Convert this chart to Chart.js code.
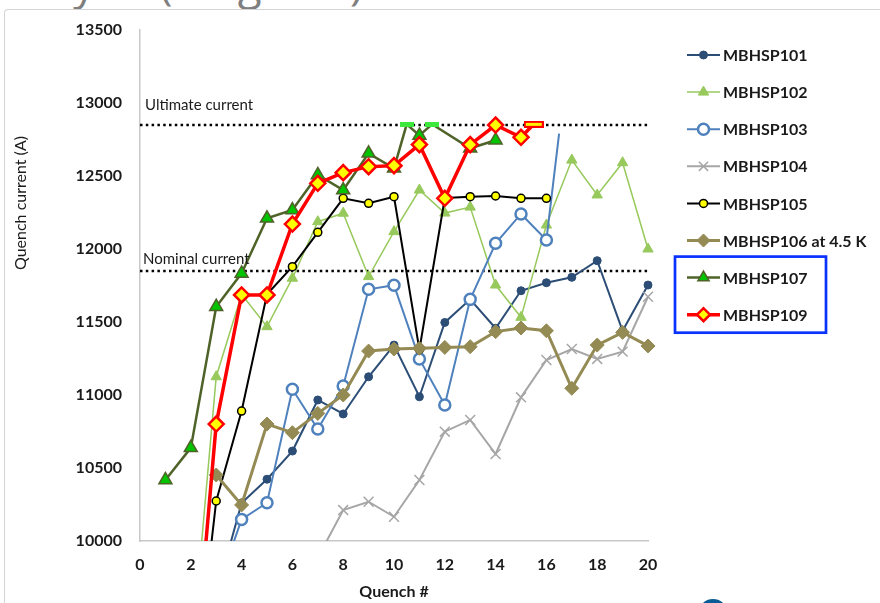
<!DOCTYPE html>
<html>
<head>
<meta charset="utf-8">
<title>Quench training</title>
<script src="https://cdn.jsdelivr.net/npm/chart.js"></script>
<style>
  html, body { margin: 0; padding: 0; background: #fff; }
  #page { position: relative; width: 880px; height: 603px; overflow: hidden; background: #fff; }
  #slideTitle { position: absolute; left: -224px; top: -40px; font: 44px/44px 'Open Sans', sans-serif; color: #7f7f7f; white-space: nowrap; }
  #frame { position: absolute; left: 4px; top: 9px; width: 900px; height: 700px;
           border-left: 1.5px solid #d4d4d4; border-top: 1.5px solid #d4d4d4; border-top-left-radius: 4px; }
  #quenchChart { position: absolute; left: 0; top: 0; }
  #logo { position: absolute; left: 698px; top: 599px; width: 30px; height: 30px; border-radius: 50%; background: #0b5c96; }
</style>
</head>
<body>
<div id="page">
  <div id="slideTitle">Training history of (magnets)</div>
  <div id="frame"></div>
  <canvas id="quenchChart" width="880" height="603"></canvas>
  <div id="logo"></div>
</div>
<script>
// ==================== DATOS ====================
const QUENCH_MIN = 0;
const QUENCH_MAX = 20;
const QUENCH_STEP = 2;
const CURRENT_MIN = 10000;
const CURRENT_MAX = 13500;
const CURRENT_STEP = 500;

const NOMINAL_CURRENT  = 11850;
const ULTIMATE_CURRENT = 12850;

const mbhsp101Quench  = [3, 4, 5, 6, 7, 8, 9, 10, 11, 12, 13, 14, 15, 16, 17, 18, 19, 20];
const mbhsp101Current = [9630, 10260, 10423, 10616, 10966, 10870, 11125, 11342, 10988, 11497,
                         11655, 11457, 11714, 11769, 11806, 11920, 11440, 11753];

const mbhsp102Quench  = [2, 3, 4, 5, 6, 7, 8, 9, 10, 11, 12, 13, 14, 15, 16, 17, 18, 19, 20];
const mbhsp102Current = [9150, 11125, 11690, 11468, 11800, 12187, 12245, 11811, 12119, 12404,
                         12246, 12287, 11753, 11532, 12164, 12609, 12370, 12591, 12000];

const mbhsp103Quench  = [3, 4, 5, 6, 7, 8, 9, 10, 11, 12, 13, 14, 15, 16, 16.5];
const mbhsp103Current = [9650, 10148, 10262, 11039, 10767, 11062, 11724, 11752, 11247, 10932,
                         11655, 12039, 12240, 12062, 12790];

const mbhsp104Quench  = [7, 8, 9, 10, 11, 12, 13, 14, 15, 16, 17, 18, 19, 20];
const mbhsp104Current = [9886, 10212, 10269, 10166, 10418, 10749, 10829, 10596, 10984, 11240,
                         11315, 11247, 11297, 11673];

const mbhsp105Quench  = [2, 3, 4, 5, 6, 7, 8, 9, 10, 11, 12, 13, 14, 15, 16];
const mbhsp105Current = [8750, 10274, 10890, 11690, 11879, 12114, 12347, 12313, 12358, 11310,
                         12349, 12358, 12363, 12347, 12347];

const mbhsp106Quench  = [3, 4, 5, 6, 7, 8, 9, 10, 11, 12, 13, 14, 15, 16, 17, 18, 19, 20];
const mbhsp106Current = [10452, 10247, 10801, 10742, 10874, 11000, 11301, 11315, 11320, 11326,
                         11331, 11434, 11459, 11440, 11046, 11342, 11429, 11336];

const mbhsp107Quench  = [1, 2, 3, 4, 5, 6, 7, 8, 9, 10, 10.5, 11, 11.5, 13, 14];
const mbhsp107Current = [10418, 10638, 11605, 11833, 12210, 12267, 12507, 12404, 12655, 12553,
                         12854, 12778, 12854, 12690, 12745];
const mbhsp107SinQuench = [10.5, 11.5];   // rampas sin quench (marca de raya)

const mbhsp109Quench  = [2, 3, 4, 5, 6, 7, 8, 9, 10, 11, 12, 13, 14, 15, 15.5];
const mbhsp109Current = [8800, 10801, 11685, 11685, 12171, 12450, 12523, 12564, 12571, 12715,
                         12347, 12715, 12849, 12765, 12854];
const mbhsp109SinQuench = [15.5];

// ==================== MARCAS ESPECIALES ====================

function makeDash(w, h, fill, stroke) {
  const c = document.createElement('canvas');
  c.width = w;
  c.height = h;
  const g = c.getContext('2d');
  g.fillStyle = fill;
  g.fillRect(0, 0, w, h);
  if (stroke) {
    g.strokeStyle = stroke;
    g.lineWidth = 2;
    g.strokeRect(1, 1, w - 2, h - 2);
  }
  return c;
}

const greenDash = makeDash(14, 5, '#3BE83B');
const redDash   = makeDash(20, 7, '#FFF200', '#FF0000');

const toPoints = (xs, ys) => xs.map((x, i) => ({ x, y: ys[i] }));

// ==================== SERIES ====================

const series = [
  { label: 'MBHSP101', xs: mbhsp101Quench, ys: mbhsp101Current,
    color: '#2C4D75', width: 2, style: 'circle', radius: 4, fill: '#2C4D75', ptBorder: '#2C4D75', ptWidth: 1 },
  { label: 'MBHSP102', xs: mbhsp102Quench, ys: mbhsp102Current,
    color: '#97C95C', width: 1.5, style: 'triangle', radius: 6, fill: '#97C95C', ptBorder: '#97C95C', ptWidth: 1 },
  { label: 'MBHSP103', xs: mbhsp103Quench, ys: mbhsp103Current,
    color: '#4F81BD', width: 2, style: 'circle', radius: 5.5, fill: '#FFFFFF', ptBorder: '#4F81BD', ptWidth: 2.5,
    hideLast: true },
  { label: 'MBHSP104', xs: mbhsp104Quench, ys: mbhsp104Current,
    color: '#A6A6A6', width: 2, style: 'crossRot', radius: 7, fill: '#A6A6A6', ptBorder: '#A6A6A6', ptWidth: 1.5 },
  { label: 'MBHSP105', xs: mbhsp105Quench, ys: mbhsp105Current,
    color: '#000000', width: 2, style: 'circle', radius: 4, fill: '#FFFF00', ptBorder: '#000000', ptWidth: 1.5 },
  { label: 'MBHSP106 at 4.5 K', xs: mbhsp106Quench, ys: mbhsp106Current,
    color: '#948A54', width: 3, style: 'rectRot', radius: 7, fill: '#948A54', ptBorder: '#948A54', ptWidth: 1 },
  { label: 'MBHSP107', xs: mbhsp107Quench, ys: mbhsp107Current,
    color: '#4F6228', width: 2.5, style: 'triangle', radius: 7.5, fill: '#00C400', ptBorder: '#4F6228', ptWidth: 1.5,
    sinQuench: mbhsp107SinQuench, dash: greenDash },
  { label: 'MBHSP109', xs: mbhsp109Quench, ys: mbhsp109Current,
    color: '#FF0000', width: 3.5, style: 'rectRot', radius: 7.5, fill: '#FFFF00', ptBorder: '#FF0000', ptWidth: 2.5,
    sinQuench: mbhsp109SinQuench, dash: redDash }
];

// Recorte: deja ver marcas completas en el borde derecho, corta en el eje inferior
const CLIP_AREA = { left: 6, top: 10, right: 12, bottom: 0 };

const datasets = series.map((s, i) => ({
  label: s.label,
  data: toPoints(s.xs, s.ys),
  borderColor: s.color,
  borderWidth: s.width,
  backgroundColor: s.fill,
  pointBackgroundColor: s.fill,
  pointBorderColor: s.ptBorder,
  pointBorderWidth: s.ptWidth,
  pointStyle: (ctx) => (s.sinQuench && ctx.raw && s.sinQuench.includes(ctx.raw.x)) ? s.dash : s.style,
  pointRadius: (ctx) => (s.hideLast && ctx.dataIndex === s.xs.length - 1) ? 0 : s.radius,
  tension: 0,
  fill: false,
  clip: CLIP_AREA,
  order: series.length - i
}));

// Líneas de referencia punteadas
[NOMINAL_CURRENT, ULTIMATE_CURRENT].forEach(v => {
  datasets.push({
    label: '',
    data: [{ x: QUENCH_MIN, y: v }, { x: QUENCH_MAX, y: v }],
    borderColor: '#000000',
    borderWidth: 2.5,
    borderDash: [2.5, 3.3],
    pointRadius: 0,
    fill: false,
    order: 20
  });
});

// ==================== PLUGINS ====================

const refLabelPlugin = {
  id: 'refLabels',
  afterDatasetsDraw(chart) {
    const { ctx, chartArea, scales } = chart;
    ctx.save();
    ctx.font = '15px Lato';
    ctx.fillStyle = '#1a1a1a';
    ctx.textBaseline = 'middle';
    ctx.textAlign = 'left';
    ctx.fillText('Ultimate current', chartArea.left + 5, scales.y.getPixelForValue(ULTIMATE_CURRENT) - 20);
    ctx.fillText('Nominal current', chartArea.left + 3, scales.y.getPixelForValue(NOMINAL_CURRENT) - 12);
    ctx.restore();
  }
};

const axisTitlePlugin = {
  id: 'yTitle',
  afterDraw(chart) {
    const ctx = chart.ctx;
    ctx.save();
    ctx.translate(21, 203);
    ctx.rotate(-Math.PI / 2);
    ctx.font = '16px Lato';
    ctx.fillStyle = '#1a1a1a';
    ctx.textAlign = 'center';
    ctx.textBaseline = 'middle';
    ctx.fillText('Quench current (A)', 0, 0);
    ctx.restore();
  }
};

const legendPlugin = {
  id: 'quenchLegend',
  afterDraw(chart) {
    const ctx = chart.ctx;
    const area = chart.chartArea;
    const lineX0 = area.right + 39;
    const lineX1 = area.right + 72;
    const textX  = area.right + 75;
    const rowY0  = area.top + 25;
    const rowGap = 37.1;

    ctx.save();
    series.forEach((s, i) => {
      const y = rowY0 + i * rowGap;
      ctx.strokeStyle = s.color;
      ctx.lineWidth = s.width;
      ctx.setLineDash([]);
      ctx.beginPath();
      ctx.moveTo(lineX0, y);
      ctx.lineTo(lineX1, y);
      ctx.stroke();

      ctx.fillStyle = s.fill;
      ctx.strokeStyle = s.ptBorder;
      ctx.lineWidth = s.ptWidth;
      Chart.helpers.drawPoint(ctx, {
        pointStyle: s.style,
        radius: Math.min(s.radius, 6.5),
        rotation: 0,
        borderWidth: s.ptWidth
      }, (lineX0 + lineX1) / 2, y);

      ctx.fillStyle = '#1a1a1a';
      ctx.font = 'bold 16px Lato';
      ctx.textAlign = 'left';
      ctx.textBaseline = 'middle';
      ctx.fillText(s.label, textX, y + 1);
    });

    // Recuadro azul de los imanes nuevos (107 y 109)
    const yBox0 = rowY0 + 6 * rowGap - 21;
    const yBox1 = rowY0 + 7 * rowGap + 18;
    ctx.strokeStyle = '#0A32FF';
    ctx.lineWidth = 2.7;
    ctx.strokeRect(area.right + 27, yBox0, 151, yBox1 - yBox0);
    ctx.restore();
  }
};

// ==================== GRÁFICO ====================

const tickFont = { family: 'Lato', size: 16, weight: 'bold' };

new Chart(document.getElementById('quenchChart'), {
  type: 'line',
  data: { datasets },
  options: {
    responsive: false,
    animation: false,
    devicePixelRatio: 1,
    layout: { padding: { top: 30, right: 232, bottom: 0, left: 0 } },
    plugins: {
      legend: { display: false },
      tooltip: { enabled: false }
    },
    scales: {
      x: {
        type: 'linear',
        min: QUENCH_MIN,
        max: QUENCH_MAX,
        ticks: {
          stepSize: QUENCH_STEP,
          padding: 14,
          font: tickFont,
          color: '#1a1a1a',
          callback: (v) => String(v)
        },
        grid: { display: false, drawTicks: false },
        border: { display: true, color: '#C8C8C8', width: 1.5 },
        title: {
          display: true,
          text: 'Quench #',
          font: { family: 'Lato', size: 16, weight: 'bold' },
          color: '#1a1a1a',
          padding: { top: 0, bottom: 2 }
        },
        afterFit: (scale) => { scale.height = 62; }
      },
      y: {
        min: CURRENT_MIN,
        max: CURRENT_MAX,
        ticks: {
          stepSize: CURRENT_STEP,
          padding: 18,
          font: tickFont,
          color: '#1a1a1a',
          callback: (v) => String(v)
        },
        grid: { display: false, drawTicks: false },
        border: { display: true, color: '#C8C8C8', width: 1.5 },
        afterFit: (scale) => { scale.width = 140; }
      }
    }
  },
  plugins: [refLabelPlugin, legendPlugin, axisTitlePlugin]
});
</script>
</body>
</html>
